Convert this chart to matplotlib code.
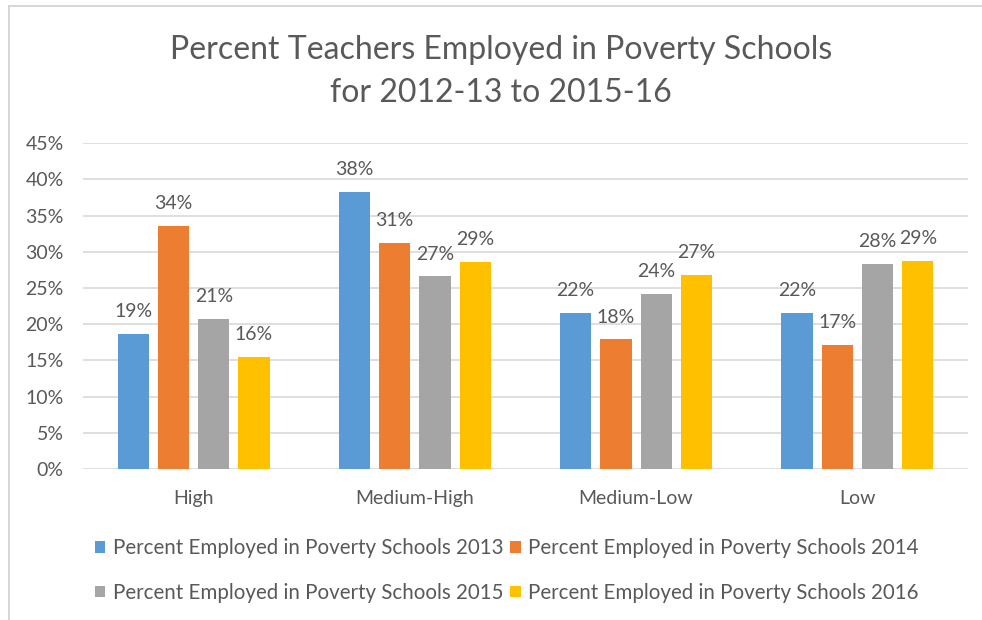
import matplotlib
matplotlib.use("Agg")
import matplotlib.pyplot as plt
from matplotlib.lines import Line2D
from matplotlib.patches import Patch
import numpy as np

plt.rcParams["font.family"] = ["Lato", "DejaVu Sans"]

TEXT = "#595959"
GRID = "#D9D9D9"

categories = ["High", "Medium-High", "Medium-Low", "Low"]
series_names = [
    "Percent Employed in Poverty Schools 2013",
    "Percent Employed in Poverty Schools 2014",
    "Percent Employed in Poverty Schools 2015",
    "Percent Employed in Poverty Schools 2016",
]
colors = ["#5B9BD5", "#ED7D31", "#A5A5A5", "#FFC000"]

# values (fractions)
pct_2013 = [0.187, 0.383, 0.215, 0.215]
pct_2014 = [0.336, 0.312, 0.179, 0.171]
pct_2015 = [0.207, 0.266, 0.242, 0.283]
pct_2016 = [0.155, 0.286, 0.268, 0.288]
series = [pct_2013, pct_2014, pct_2015, pct_2016]

fig = plt.figure(figsize=(9.82, 6.2), dpi=100)
ax = fig.add_axes([0.0845, 0.2435, 0.9012, 0.5255])

x = np.arange(len(categories))
width = 0.141
pitch = 0.182
for i, (vals, col) in enumerate(zip(series, colors)):
    off = (i - 1.5) * pitch
    bars = ax.bar(x + off, vals, width, color=col, zorder=3)
    for b, v in zip(bars, vals):
        ax.annotate(f"{v:.0%}", (b.get_x() + b.get_width() / 2, v),
                    xytext=(0, 10), textcoords="offset points",
                    ha="center", va="bottom", fontsize=14, color=TEXT)

ax.set_xlim(-0.5, len(categories) - 0.5)
ax.set_ylim(0, 0.45)
ax.set_yticks(np.arange(0, 0.451, 0.05))
ax.set_yticklabels([f"{t:.0%}" for t in np.arange(0, 0.451, 0.05)])
ax.set_xticks(x)
ax.set_xticklabels(categories)
ax.tick_params(axis="both", length=0, colors=TEXT, labelsize=14)
ax.tick_params(axis="y", pad=14)
ax.tick_params(axis="x", pad=15)
ax.grid(axis="y", color=GRID, linewidth=1.2, zorder=0)
for s in ax.spines.values():
    s.set_visible(False)

fig.text(0.51, 0.885, "Percent Teachers Employed in Poverty Schools\nfor 2012-13 to 2015-16",
         ha="center", va="center", fontsize=23, color=TEXT, linespacing=1.55)

handles = [Patch(facecolor=c, edgecolor="none") for c in colors]
order = [0, 2, 1, 3]
fig.legend([handles[i] for i in order], [series_names[i] for i in order],
           loc="center", bbox_to_anchor=(0.516, 0.080), ncol=2, frameon=False,
           fontsize=14.8, handlelength=0.5, handleheight=0.5, handletextpad=0.35,
           columnspacing=0.35, labelspacing=1.2, labelcolor=TEXT)

# light chart-area border (top and left only visible)
fig.add_artist(Line2D([0.009, 1.0], [0.99, 0.99], transform=fig.transFigure,
                      color="#D0D0D0", linewidth=1.2))
fig.add_artist(Line2D([0.0095, 0.0095], [0.0, 0.99], transform=fig.transFigure,
                      color="#D0D0D0", linewidth=1.2))

fig.savefig("out.png", dpi=100)
